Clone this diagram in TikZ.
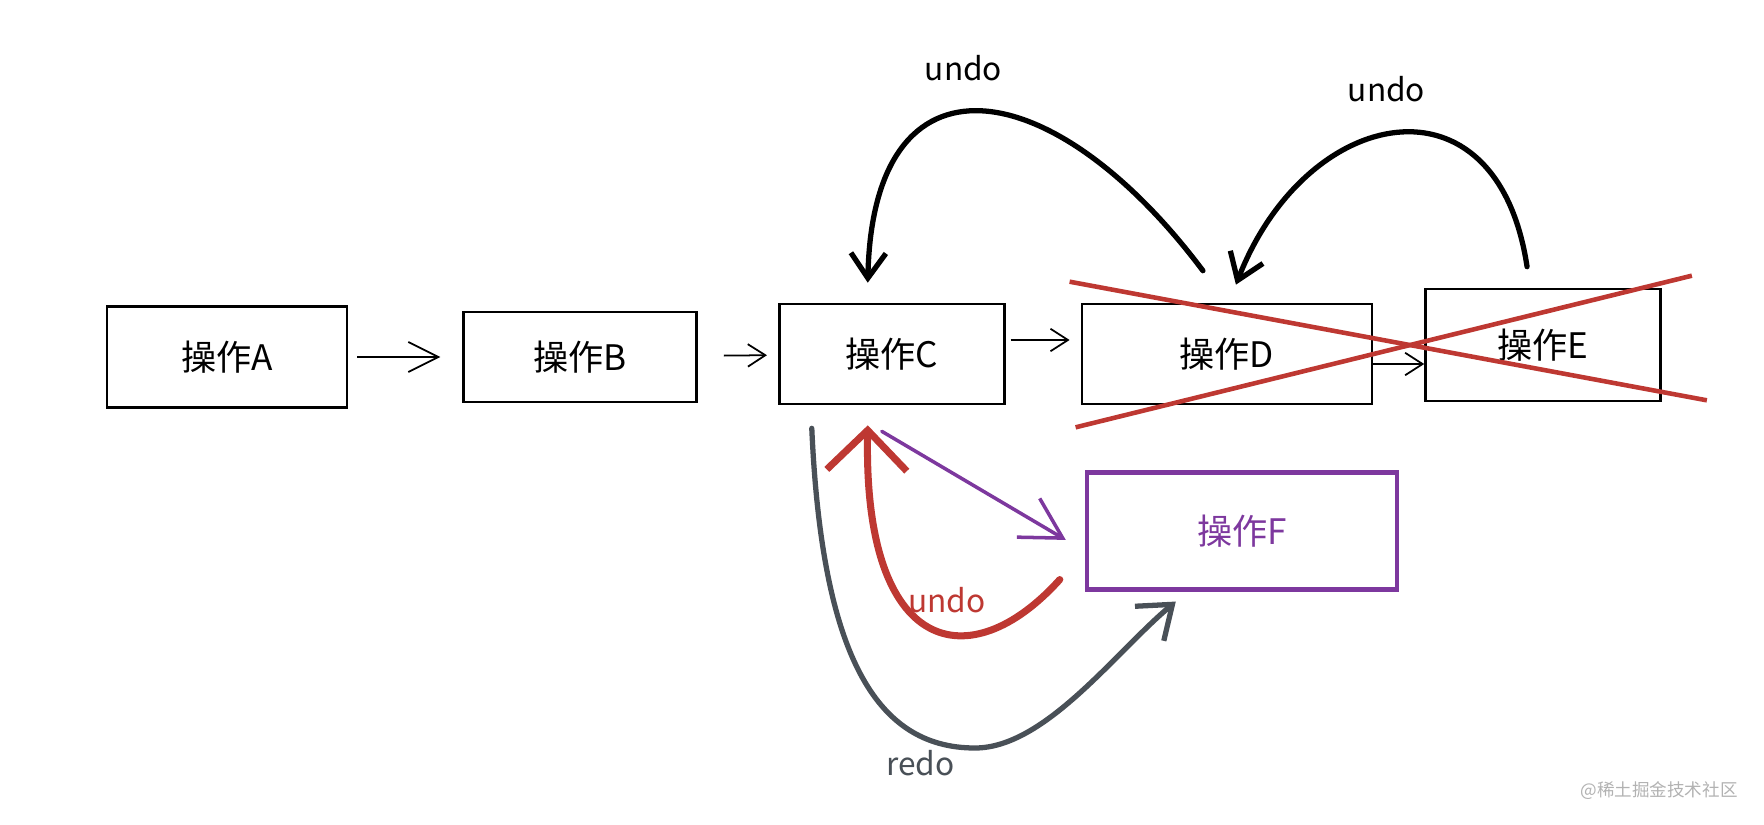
\documentclass[tikz,border=0pt]{standalone}
\usepackage{fontspec}
\setmainfont{Noto Sans CJK SC}
\usepackage{xcolor}
\usetikzlibrary{arrows.meta,positioning}
\definecolor{undored}{RGB}{190,56,50}
\definecolor{opviolet}{RGB}{125,56,158}
\definecolor{redogray}{RGB}{73,80,87}

\begin{document}
\begin{tikzpicture}[
  box/.style={rectangle,draw=black,line width=1.5pt,align=center,minimum height=2cm,font=\fontsize{20}{24}\selectfont},
  arr/.style={-{Straight Barb[length=3.5mm,width=4.5mm]},line width=1pt},
  undoarr/.style={-{Straight Barb[length=5mm,width=7mm]},line width=3pt,line cap=round},
  lbl/.style={font=\fontsize{18}{22}\selectfont},
  cross/.style={draw=undored,line width=2.6pt}
]
\useasboundingbox (0,0) rectangle (35.28,-16.48);
\node[box,minimum width=4.8cm,minimum height=2.02cm] (A) at (4.54,-7.14) {操作A};
\node[box,minimum width=4.66cm,minimum height=1.8cm,right=2.28cm of A] (B) {操作B};
\node[box,minimum width=4.5cm,right=1.6cm of B,yshift=0.06cm] (C) {操作C};
\node[box,minimum width=5.8cm,right=1.5cm of C] (D) {操作D};
\node[box,minimum width=4.7cm,minimum height=2.24cm,right=1.02cm of D,yshift=0.18cm] (E) {操作E};
\node[box,draw=opviolet,text=opviolet,line width=2.4pt,minimum width=6.2cm,minimum height=2.34cm,below=1.3cm of D,xshift=0.3cm] (F) {操作F};
\draw[arr,-{Straight Barb[length=6mm,width=6mm]},shorten <=0.18cm,shorten >=0.44cm] (A) -- (B);
\draw[arr,shorten <=0.52cm,shorten >=0.22cm] (B) -- (C);
\draw[arr] ([shift={(0.1,0.28)}]C.east) -- ([shift={(-0.22,0.28)}]D.west);
\draw[arr] ([yshift=-0.2cm]D.east) -- ([yshift=-0.2cm-0.18cm]E.west);
\draw[undoarr] ([shift={(-0.48,0.64)}]D.north) .. controls +(-3.0,4.0) and +(0.1,4.8) .. ([shift={(-0.48,0.4)}]C.north)
  node[lbl,pos=0.5,above=0.45cm,xshift=-0.35cm] (u1) {undo};
\draw[undoarr] ([shift={(-0.32,0.42)}]E.north) .. controls +(-0.6,4.0) and +(1.4,3.6) .. ([shift={(0.18,0.36)}]D.north)
  node[lbl,pos=0.5,above=0.45cm,xshift=-0.2cm] (u2) {undo};
\draw[cross] ([shift={(-0.22,0.42)}]D.north west) -- ([shift={(0.9,0.04)}]E.south east);
\draw[cross] ([shift={(-0.1,-0.44)}]D.south west) -- ([shift={(0.6,0.24)}]E.north east);
\draw[draw=opviolet,line width=2pt,line cap=round,-{Straight Barb[length=8mm,width=9mm]}] ([shift={(-0.2,-0.52)}]C.south) -- ([shift={(-0.38,-0.18)}]F.west);
\draw[draw=undored,line width=4pt,line cap=round,-{Straight Barb[length=8mm,width=16mm]}] ([shift={(-0.5,0.24)}]F.south west) .. controls +(-1.8,-2.0) and +(-0.1,-4.6) .. ([shift={(-0.48,-0.4)}]C.south)
  node[lbl,text=undored,pos=0.4,above=0.25cm,xshift=-0.1cm] (u3) {undo};
\draw[draw=redogray,line width=3pt,line cap=round,-{Straight Barb[length=6mm,width=9mm]}] ([shift={(-1.6,-0.46)}]C.south) .. controls +(0.2,-4.5) and +(-2.0,0) .. (19.5,-14.96)
  node[lbl,text=redogray,pos=0.8,below=0.1cm] (r1) {redo}
  .. controls +(1.4,0) and +(-1.2,-1.0) .. ([shift={(1.82,-0.2)}]F.south west);
\node[text=gray!60,font=\fontsize{10}{12}\selectfont] (wm) at (33.18,-15.82) {@稀土掘金技术社区};
\end{tikzpicture}
\end{document}
